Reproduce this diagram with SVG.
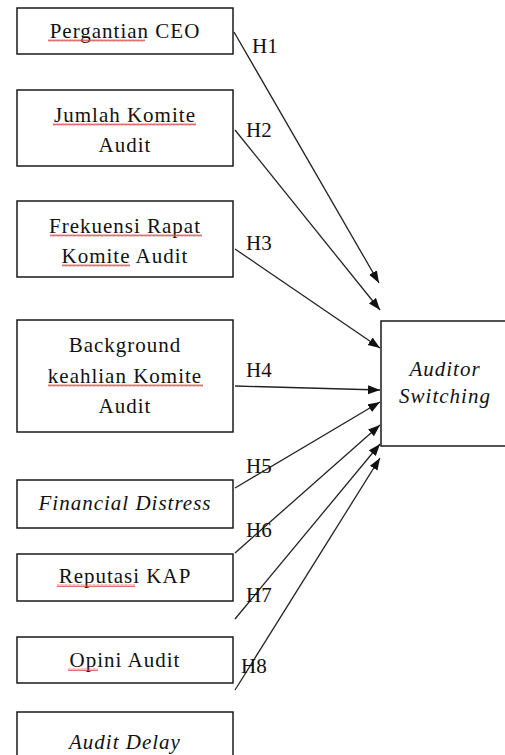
<svg xmlns="http://www.w3.org/2000/svg" width="505" height="755" viewBox="0 0 505 755">
<style>
.box{fill:#fff;stroke:#1a1a1a;stroke-width:1.5}
.t{font-family:"Liberation Serif","Times New Roman",serif;font-size:21px;fill:#111;text-anchor:middle;letter-spacing:1px}
.i{font-style:italic}
.lbl{font-family:"Liberation Serif","Times New Roman",serif;font-size:21px;fill:#111}
.c{stroke:#222;stroke-width:1.3;fill:none;marker-end:url(#ah)}
.sq{fill:url(#wave)}
</style>
<defs>
<marker id="ah" markerUnits="userSpaceOnUse" markerWidth="13" markerHeight="10" refX="12" refY="4.5" orient="auto">
<path d="M0,0 L12,4.5 L0,9 z" fill="#111"/>
</marker>
<pattern id="wave" patternUnits="userSpaceOnUse" width="4" height="3">
<path d="M0,2.5 L1,0.5 L2,2.5 L3,0.5 L4,2.5" stroke="#e04848" stroke-width="0.8" fill="none"/>
</pattern>
</defs>
<rect x="0" y="0" width="505" height="755" fill="#fff"/>

<g id="n1"><rect class="box" x="17" y="8" width="216" height="46"/><text class="t" x="125" y="38">Pergantian CEO</text><rect class="sq" x="48" y="39" width="97" height="3"/></g>
<g id="n2"><rect class="box" x="17" y="90" width="216" height="76"/><text class="t" x="125" y="122">Jumlah Komite</text><text class="t" x="125" y="152">Audit</text><rect class="sq" x="53" y="123" width="143" height="3"/></g>
<g id="n3"><rect class="box" x="17" y="201" width="216" height="76"/><text class="t" x="125" y="233">Frekuensi Rapat</text><text class="t" x="125" y="263">Komite Audit</text><rect class="sq" x="50" y="234" width="152" height="3"/><rect class="sq" x="62" y="264" width="68" height="3"/></g>
<g id="n4"><rect class="box" x="17" y="320" width="216" height="112"/><text class="t" x="125" y="352">Background</text><text class="t" x="125" y="383">keahlian Komite</text><text class="t" x="125" y="413">Audit</text><rect class="sq" x="48" y="384" width="155" height="3"/></g>
<g id="n5"><rect class="box" x="17" y="480" width="216" height="48"/><text class="t i" x="125" y="510">Financial Distress</text></g>
<g id="n6"><rect class="box" x="17" y="554" width="216" height="47"/><text class="t" x="125" y="583">Reputasi KAP</text><rect class="sq" x="57" y="584" width="78" height="3"/></g>
<g id="n7"><rect class="box" x="17" y="637" width="216" height="46"/><text class="t" x="125" y="667">Opini Audit</text><rect class="sq" x="68" y="668" width="30" height="3"/></g>
<g id="n8"><rect class="box" x="17" y="712" width="216" height="60"/><text class="t i" x="125" y="749">Audit Delay</text></g>
<g id="target"><rect class="box" x="381" y="321" width="140" height="125"/><text class="t i" x="445" y="376">Auditor</text><text class="t i" x="445" y="403">Switching</text></g>

<g id="connectors">
<line class="c" x1="234" y1="32" x2="379" y2="283"/>
<line class="c" x1="235" y1="130" x2="380" y2="310"/>
<line class="c" x1="235" y1="249" x2="380" y2="348"/>
<line class="c" x1="235" y1="386" x2="380" y2="390"/>
<line class="c" x1="235" y1="488" x2="380" y2="402"/>
<line class="c" x1="235" y1="553" x2="380" y2="425"/>
<line class="c" x1="235" y1="619" x2="380" y2="444"/>
<line class="c" x1="235" y1="690" x2="380" y2="458"/>
<text class="lbl" x="252" y="53">H1</text>
<text class="lbl" x="246" y="137">H2</text>
<text class="lbl" x="246" y="250">H3</text>
<text class="lbl" x="246" y="377">H4</text>
<text class="lbl" x="246" y="473">H5</text>
<text class="lbl" x="246" y="537">H6</text>
<text class="lbl" x="246" y="602">H7</text>
<text class="lbl" x="241" y="673">H8</text>
</g>
</svg>
